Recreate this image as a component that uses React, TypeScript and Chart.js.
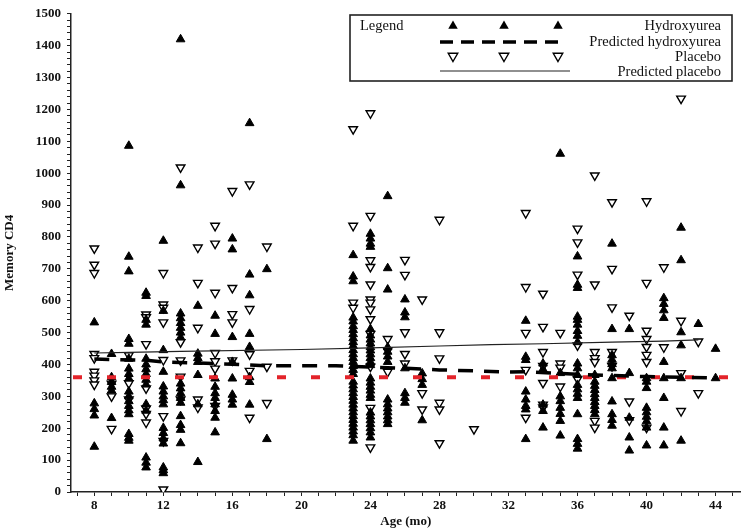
import React, { useEffect, useRef } from "react";
import { Chart, registerables } from "chart.js";

Chart.register(...registerables);

// Observed memory CD4 values, grouped by age (months)
const HYDROXYUREA: [number, number[]][] = [
  [8, [532, 278, 260, 240, 142]],
  [9, [433, 360, 345, 330, 318, 232]],
  [10, [1086, 738, 692, 480, 465, 418, 387, 370, 356, 315, 300, 285, 270, 256, 244, 182, 170, 161]],
  [11, [625, 615, 540, 525, 418, 400, 385, 370, 352, 337, 275, 255, 108, 92, 77]],
  [12, [788, 568, 445, 377, 331, 315, 300, 288, 275, 201, 185, 168, 152, 77, 68, 59]],
  [13, [1420, 962, 560, 545, 530, 515, 500, 485, 340, 325, 310, 295, 280, 238, 210, 195, 153]],
  [14, [584, 434, 420, 408, 367, 275, 94]],
  [15, [553, 496, 356, 330, 310, 295, 275, 254, 233, 187]],
  [16, [795, 761, 486, 408, 356, 305, 290, 274]],
  [17, [1157, 682, 617, 496, 455, 360, 345, 274]],
  [18, [699, 166]],
  [23, [743, 676, 661, 547, 535, 520, 508, 495, 482, 470, 458, 445, 432, 420, 408, 395, 383, 370, 346, 334, 322, 310, 298, 286, 274, 262, 250, 238, 226, 214, 202, 190, 178, 161]],
  [24, [810, 795, 779, 769, 511, 491, 478, 466, 454, 444, 432, 420, 408, 398, 356, 343, 330, 318, 305, 295, 249, 237, 225, 213, 200, 187, 171]],
  [25, [928, 702, 635, 454, 440, 425, 408, 290, 275, 262, 250, 237, 225, 213]],
  [26, [604, 563, 548, 388, 310, 295, 280]],
  [27, [372, 354, 336, 225]],
  [33, [537, 424, 414, 315, 290, 270, 259, 166]],
  [34, [403, 385, 274, 254, 202]],
  [35, [1061, 373, 300, 285, 264, 245, 223, 177]],
  [36, [739, 650, 640, 550, 540, 525, 505, 490, 470, 403, 388, 367, 336, 322, 308, 295, 244, 166, 151, 136]],
  [37, [367, 346, 333, 320, 307, 295, 282, 270, 257, 244]],
  [38, [779, 511, 429, 415, 401, 388, 357, 284, 244, 226, 208]],
  [39, [511, 373, 233, 171, 130]],
  [40, [357, 346, 326, 264, 250, 236, 222, 202, 146]],
  [41, [608, 590, 570, 546, 408, 357, 295, 202, 146]],
  [42, [829, 727, 501, 460, 357, 161]],
  [43, [527]],
  [44, [449, 357]],
];

const PLACEBO: [number, number[]][] = [
  [8, [764, 713, 687, 433, 420, 377, 365, 350, 337]],
  [9, [340, 300, 198]],
  [10, [429, 341, 290]],
  [11, [557, 548, 464, 325, 262, 245, 218]],
  [12, [687, 588, 578, 532, 414, 238, 160, 8]],
  [13, [1018, 470, 413, 362, 290]],
  [14, [767, 656, 515, 290, 265]],
  [15, [835, 779, 625, 436, 410, 387, 270]],
  [16, [944, 640, 558, 532, 413]],
  [17, [965, 574, 432, 380, 233]],
  [18, [770, 393, 279]],
  [23, [1138, 835, 594, 578]],
  [24, [1188, 866, 727, 706, 651, 604, 594, 573, 542, 496, 393, 264, 140]],
  [25, [480, 444, 377]],
  [26, [728, 681, 501, 433, 403]],
  [27, [604, 310, 259]],
  [28, [854, 501, 419, 280, 259, 153]],
  [30, [197]],
  [33, [875, 643, 499, 383, 233]],
  [34, [622, 518, 439, 395, 342, 274, 265]],
  [35, [499, 403, 390, 331]],
  [36, [826, 783, 682, 460, 355]],
  [37, [993, 651, 439, 420, 408, 223, 202]],
  [38, [909, 700, 579, 439, 395]],
  [39, [553, 284, 225]],
  [40, [912, 656, 506, 480, 455, 430, 408, 202]],
  [41, [705, 454]],
  [42, [1234, 537, 373, 254]],
  [43, [472, 310]],
];

const PRED_HYDROXY_AGES = [8, 11, 12, 16, 18, 22, 26, 28, 30, 32, 33, 36, 40, 44];
const PRED_HYDROXY_VALUES = [417, 413, 408, 401, 396, 396, 388, 383, 380, 376, 377, 369, 362, 358];

const PRED_PLACEBO_AGES = [8, 10, 13, 20, 24, 28, 31, 34, 38, 41, 43];
const PRED_PLACEBO_VALUES = [436, 438, 441, 447, 452, 458, 462, 465, 470, 473, 477];

const REFERENCE_VALUE = 360;

const X_MIN = 6.65;
const X_MAX = 45.45;
const X_LABELS = [8, 12, 16, 20, 24, 28, 32, 36, 40, 44];
const Y_LABEL_STEP = 100;

const LEGEND_TITLE = "Legend";
const LEGEND_LABELS = ["Hydroxyurea", "Predicted hydroxyurea", "Placebo", "Predicted placebo"];

const SERIF = "'Liberation Serif', 'DejaVu Serif', serif";

function toPoints(groups: [number, number[]][]) {
  const pts: { x: number; y: number }[] = [];
  groups.forEach(([age, vals]) => vals.forEach((v) => pts.push({ x: age, y: v })));
  return pts;
}

const legendPlugin = {
  id: "customLegend",
  afterDraw(chart: any) {
    const ctx = chart.ctx as CanvasRenderingContext2D;
    ctx.save();
    const bx = 350, by = 15, bw = 382, bh = 66;
    ctx.fillStyle = "#fff";
    ctx.fillRect(bx, by, bw, bh);
    ctx.strokeStyle = "#222";
    ctx.lineWidth = 1.6;
    ctx.strokeRect(bx, by, bw, bh);

    ctx.fillStyle = "#111";
    ctx.font = `14.5px ${SERIF}`;
    ctx.textBaseline = "middle";
    ctx.textAlign = "left";
    ctx.fillText(LEGEND_TITLE, 360, 26);
    ctx.textAlign = "right";
    const rows = [26, 42, 57, 72];
    LEGEND_LABELS.forEach((t, i) => ctx.fillText(t, 721, rows[i]));

    const xs = [453, 504, 558];
    const tri = (x: number, y: number, down: boolean) => {
      const r = 5.5;
      ctx.beginPath();
      if (!down) {
        ctx.moveTo(x, y - r);
        ctx.lineTo(x + r * 0.866, y + r / 2);
        ctx.lineTo(x - r * 0.866, y + r / 2);
      } else {
        ctx.moveTo(x, y + r);
        ctx.lineTo(x + r * 0.866, y - r / 2);
        ctx.lineTo(x - r * 0.866, y - r / 2);
      }
      ctx.closePath();
    };
    xs.forEach((x) => {
      tri(x, 26, false);
      ctx.fillStyle = "#000";
      ctx.fill();
    });
    xs.forEach((x) => {
      tri(x, 56, true);
      ctx.fillStyle = "#fff";
      ctx.fill();
      ctx.strokeStyle = "#000";
      ctx.lineWidth = 1.4;
      ctx.stroke();
    });
    ctx.beginPath();
    ctx.setLineDash([13, 8]);
    ctx.lineWidth = 3.5;
    ctx.strokeStyle = "#000";
    ctx.moveTo(440, 42);
    ctx.lineTo(562, 42);
    ctx.stroke();
    ctx.setLineDash([]);
    ctx.beginPath();
    ctx.lineWidth = 1.2;
    ctx.strokeStyle = "#222";
    ctx.moveTo(440, 71);
    ctx.lineTo(570, 71);
    ctx.stroke();
    ctx.restore();
  },
};

export default function App() {
  const ref = useRef<HTMLCanvasElement | null>(null);
  useEffect(() => {
    if (!ref.current) return;
    const chart = new Chart(ref.current, {
      type: "scatter",
      data: {
        datasets: [
          {
            type: "line",
            label: "Predicted placebo",
            data: PRED_PLACEBO_AGES.map((a, i) => ({ x: a, y: PRED_PLACEBO_VALUES[i] })),
            borderColor: "#222",
            borderWidth: 1.2,
            pointRadius: 0,
            fill: false,
          } as any,
          {
            type: "line",
            label: "Predicted hydroxyurea",
            data: PRED_HYDROXY_AGES.map((a, i) => ({ x: a, y: PRED_HYDROXY_VALUES[i] })),
            borderColor: "#000",
            borderWidth: 3.5,
            borderDash: [15, 11],
            pointRadius: 0,
            fill: false,
          } as any,
          {
            type: "line",
            label: "Reference",
            data: [
              { x: X_MIN, y: REFERENCE_VALUE },
              { x: X_MAX, y: REFERENCE_VALUE },
            ],
            borderColor: "#e3232a",
            borderWidth: 4,
            borderDash: [9, 25],
            borderDashOffset: -2,
            pointRadius: 0,
            fill: false,
          } as any,
          {
            label: "Hydroxyurea",
            data: toPoints(HYDROXYUREA),
            pointStyle: "triangle",
            pointRadius: 5,
            backgroundColor: "#000",
            borderColor: "#000",
            borderWidth: 1,
          },
          {
            label: "Placebo",
            data: toPoints(PLACEBO),
            pointStyle: "triangle",
            rotation: 180,
            pointRadius: 5,
            backgroundColor: "#fff",
            borderColor: "#000",
            borderWidth: 1.4,
          } as any,
        ],
      },
      options: {
        animation: false,
        responsive: false,
        maintainAspectRatio: false,
        layout: { padding: { top: 8, right: 0, left: 0, bottom: 0 } },
        plugins: { legend: { display: false }, tooltip: { enabled: false } },
        scales: {
          x: {
            type: "linear",
            min: X_MIN,
            max: X_MAX,
            afterBuildTicks: (scale: any) => {
              const t = [];
              for (let v = 7; v <= 45; v++) t.push({ value: v });
              scale.ticks = t;
            },
            afterFit: (scale: any) => {
              scale.height = 39;
            },
            ticks: {
              autoSkip: false,
              maxRotation: 0,
              padding: 2,
              color: "#111",
              font: { family: SERIF, size: 13, weight: "bold" },
              callback: (v: any) => (X_LABELS.includes(Number(v)) ? String(v) : ""),
            },
            grid: {
              drawOnChartArea: false,
              drawTicks: true,
              tickLength: 4,
              tickColor: "#222",
              color: "#222",
            },
            border: { color: "#222", width: 1.5 },
            title: {
              display: true,
              text: "Age (mo)",
              color: "#111",
              font: { family: SERIF, size: 13, weight: "bold" },
              padding: { top: 0, bottom: 2 },
            },
          },
          y: {
            type: "linear",
            min: 0,
            max: 1500,
            afterBuildTicks: (scale: any) => {
              const t = [];
              for (let v = 0; v <= 1500; v += 20) t.push({ value: v });
              scale.ticks = t;
            },
            afterFit: (scale: any) => {
              scale.width = 71;
            },
            ticks: {
              autoSkip: false,
              padding: 6,
              color: "#111",
              font: { family: SERIF, size: 13, weight: "bold" },
              callback: (v: any) => (Number(v) % Y_LABEL_STEP === 0 ? String(v) : ""),
            },
            grid: {
              drawOnChartArea: false,
              drawTicks: true,
              tickLength: 4,
              tickColor: "#222",
              color: "#222",
            },
            border: { color: "#222", width: 1.5 },
            title: {
              display: true,
              text: "Memory CD4",
              color: "#111",
              font: { family: SERIF, size: 13, weight: "bold" },
              padding: { top: 2, bottom: 0 },
            },
          },
        },
      },
      plugins: [legendPlugin],
    });
    return () => chart.destroy();
  }, []);

  return (
    <div style={{ position: "fixed", left: 0, top: 0, width: 747, height: 531, background: "#fff" }}>
      <canvas ref={ref} width={747} height={531} style={{ width: 747, height: 531 }} />
    </div>
  );
}
